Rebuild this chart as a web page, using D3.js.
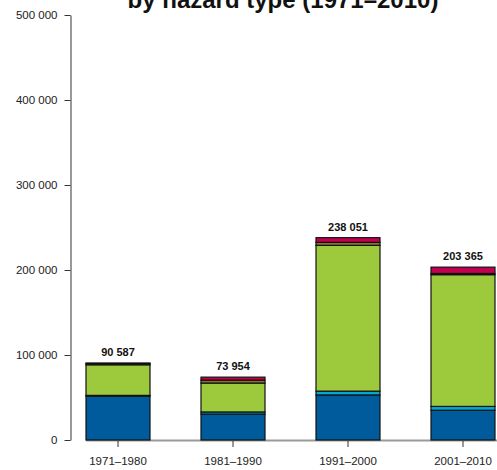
<!DOCTYPE html>
<html>
<head>
<meta charset="utf-8">
<script src="https://cdn.jsdelivr.net/npm/d3@7"></script>
<style>
  body { margin: 0; background: #fff; }
  svg { display: block; font-family: "Liberation Sans", Arial, sans-serif; }
</style>
</head>
<body>
<svg id="chart"></svg>
<script>
// decades on the x axis
var decades = ["1971–1980", "1981–1990", "1991–2000", "2001–2010"]
// hazard series, stacked bottom to top
var hazards = ["Storms", "Floods", "Droughts", "Extreme temperatures", "Other"]
var storms = [51500, 30500, 53000, 35000]
var floods = [1000, 2500, 4500, 4500]
var droughts = [36000, 34000, 171500, 155000]
var extremeTemp = [1500, 3454, 3551, 1365]
var other = [587, 3500, 5500, 7500]
var totals = [90587, 73954, 238051, 203365]
var yTicks = [0, 100000, 200000, 300000, 400000, 500000]
var colors = ["#005b9d", "#00a8d6", "#9dca3c", "#8a7424", "#c2004f"]

var width = 497, height = 470

var rows = decades.map(function (d, i) {
    return {
        decade: d,
        "Storms": storms[i],
        "Floods": floods[i],
        "Droughts": droughts[i],
        "Extreme temperatures": extremeTemp[i],
        "Other": other[i],
        total: totals[i]
    }
})

var svg = d3.select("#chart")
    .attr("width", width)
    .attr("height", height)

var x = d3.scaleBand()
    .domain(decades)
    .range([60.5, 520.5])
    .paddingInner(51 / 115)
    .paddingOuter(51 / 230)

var y = d3.scaleLinear()
    .domain([0, 500000])
    .range([440, 15])

var z = d3.scaleOrdinal().domain(hazards).range(colors)

var fmt = function (v) { return d3.format(",")(v).replace(/,/g, " ") }

// title (its first line falls above the picture, as in the source)
svg.append("text")
    .attr("x", 283)
    .attr("y", 8)
    .attr("text-anchor", "middle")
    .style("font-weight", "bold")
    .style("font-size", "24px")
    .style("fill", "#111")
    .text("by hazard type (1971–2010)")

// baseline
svg.append("line")
    .attr("x1", 86).attr("x2", 497)
    .attr("y1", y(0) + 0.5).attr("y2", y(0) + 0.5)
    .attr("stroke", "#9a9a9a")
    .attr("stroke-width", 2)

// y axis
var yAxis = svg.append("g")
    .attr("transform", "translate(70.5,0)")
    .call(d3.axisLeft(y).tickValues(yTicks).tickSize(6).tickSizeOuter(0).tickFormat(fmt))
yAxis.select(".domain").attr("stroke", "#333")
yAxis.selectAll(".tick line").attr("stroke", "#333")
yAxis.selectAll("text")
    .attr("x", -13)
    .style("font-size", "11.5px")
    .style("fill", "#222")
    .style("font-family", "Liberation Sans, Arial, sans-serif")

// x axis
var xAxis = svg.append("g")
    .attr("transform", "translate(0,441)")
    .call(d3.axisBottom(x).tickSize(6).tickSizeOuter(0))
xAxis.select(".domain").remove()
xAxis.selectAll(".tick line").attr("stroke", "#333")
xAxis.selectAll("text")
    .attr("y", 16)
    .style("font-size", "11.5px")
    .style("fill", "#222")
    .style("font-family", "Liberation Sans, Arial, sans-serif")

// stacked bars
var stack = d3.stack().keys(hazards)(rows)

svg.append("g")
    .selectAll("g")
    .data(stack)
    .enter().append("g")
    .attr("fill", function (d) { return z(d.key) })
    .selectAll("rect")
    .data(function (d) { return d })
    .enter().append("rect")
    .attr("x", function (d) { return x(d.data.decade) })
    .attr("y", function (d) { return y(d[1]) })
    .attr("width", x.bandwidth())
    .attr("height", function (d) { return y(d[0]) - y(d[1]) })
    .attr("stroke", "#111")
    .attr("stroke-width", 1.2)

// totals above bars
svg.append("g")
    .selectAll("text")
    .data(rows)
    .enter().append("text")
    .attr("x", function (d) { return x(d.decade) + x.bandwidth() / 2 })
    .attr("y", function (d) { return y(d.total) - 7 })
    .attr("text-anchor", "middle")
    .style("font-weight", "bold")
    .style("font-size", "11px")
    .style("fill", "#111")
    .text(function (d) { return fmt(d.total) })
</script>
</body>
</html>
